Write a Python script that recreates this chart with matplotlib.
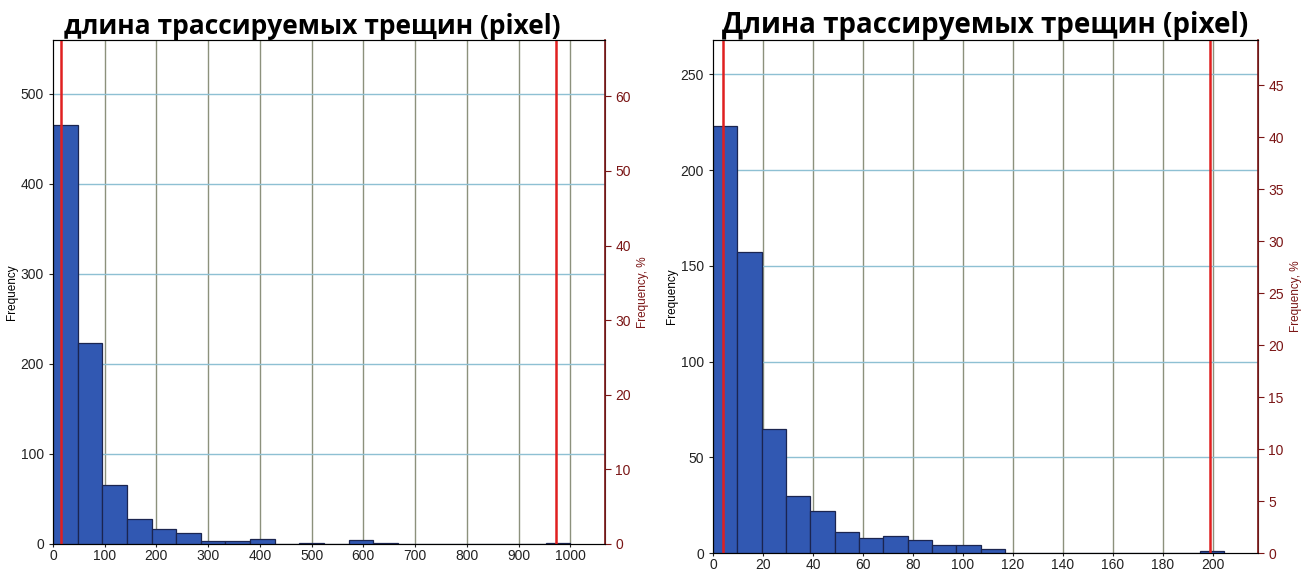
import numpy as np
import matplotlib.pyplot as plt

# histogram data (21 bins each)
left_range = (0, 1000)
left_counts = [465, 223, 66, 28, 17, 12, 3, 3, 5, 0, 1, 0, 4, 1, 0, 0, 0, 0, 0, 0, 1]
left_marks = [16, 972]

right_range = (0, 204.4)
right_counts = [223, 157, 65, 30, 22, 11, 8, 9, 7, 4, 4, 2, 0, 0, 0, 0, 0, 0, 0, 0, 1]
right_marks = [4, 198.8]

left_title = 'длина трассируемых трещин (pixel)'
right_title = 'Длина трассируемых трещин (pixel)'

bar_face = '#3158b2'
bar_edge = '#1b2550'
vgrid = '#8c917c'
hgrid = '#8ec0d3'
dark_red = '#7a1515'

plt.rcParams['font.family'] = ['Liberation Sans', 'DejaVu Sans']

fig = plt.figure(figsize=(13.08, 5.71), dpi=100)


def panel(rect, counts, rng, marks, xmax, ymax, xstep, ystep, pstep, pmax, title, tsize, tx):
    ax = fig.add_axes(rect)
    counts = np.array(counts, dtype=float)
    edges = np.linspace(rng[0], rng[1], len(counts) + 1)
    ax.hist(edges[:-1], bins=edges, weights=counts, color=bar_face,
            edgecolor=bar_edge, linewidth=0.9, zorder=3)
    ax.set_xlim(0, xmax)
    ax.set_ylim(0, ymax)
    ax.set_xticks(np.arange(0, xmax, xstep))
    ax.set_yticks(np.arange(0, ymax, ystep))
    for x in np.arange(xstep, xmax, xstep):
        ax.axvline(x, color=vgrid, lw=1.0, zorder=1)
    for y in np.arange(ystep, ymax, ystep):
        ax.axhline(y, color=hgrid, lw=1.0, zorder=1)
    for m in marks:
        ax.axvline(m, color='#e02020', lw=1.8, zorder=4)
    ax.tick_params(labelsize=10, length=3, colors='#222222')
    ax.tick_params(axis='x', length=2, pad=1.5)
    ax.set_ylabel('Frequency', fontsize=8.5, labelpad=2)
    for s in ax.spines.values():
        s.set_color('#333333')

    total = counts.sum()
    ax2 = ax.twinx()
    ax2.set_ylim(0, ymax / total * 100)
    ax2.set_yticks(np.arange(0, pmax + 0.1, pstep))
    ax2.tick_params(labelsize=10, length=4, colors=dark_red, labelcolor=dark_red)
    ax2.spines['right'].set_color(dark_red)
    ax2.spines['right'].set_linewidth(1.2)
    ax2.set_ylabel('Frequency, %', fontsize=8.5, color=dark_red, labelpad=4)

    ax.set_title(title, fontsize=tsize, fontweight='bold', family=['Open Sans', 'DejaVu Sans'],
                 pad=3, x=tx)
    return ax


panel([0.0405, 0.0473, 0.4220, 0.8827], left_counts, left_range, left_marks,
      1067, 560, 100, 100, 10, 60, left_title, 19, 0.47)
panel([0.5451, 0.0315, 0.4167, 0.8984], right_counts, right_range, right_marks,
      218, 268, 20, 50, 5, 45, right_title, 20, 0.5)

fig.savefig('out.png', dpi=100)
